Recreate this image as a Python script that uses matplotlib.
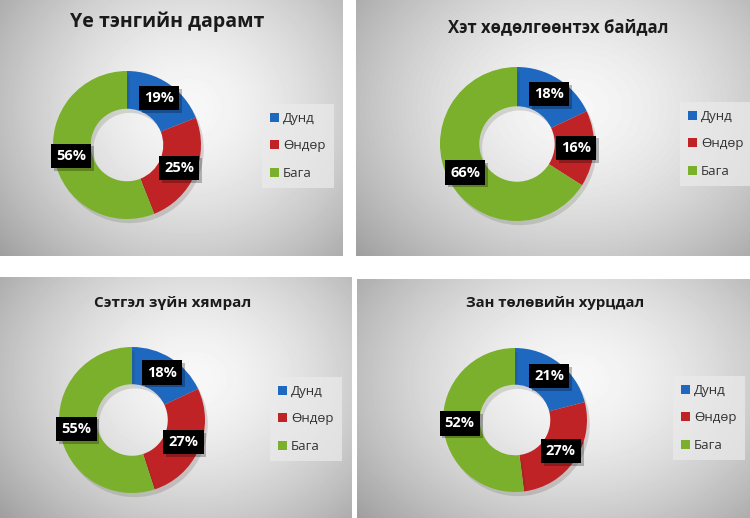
import matplotlib
matplotlib.use('Agg')
import matplotlib.pyplot as plt
import matplotlib.patheffects as pe
from matplotlib.patches import Patch
import numpy as np

plt.rcParams['font.family'] = ['Open Sans', 'Liberation Sans', 'DejaVu Sans']

# data
titles = ['Үе тэнгийн дарамт', 'Хэт хөдөлгөөнтэх байдал',
          'Сэтгэл зүйн хямрал', 'Зан төлөвийн хурцдал']
categories = ['Дунд', 'Өндөр', 'Бага']
ye_tengiin = [19, 25, 56]
het_hudulgun = [18, 16, 66]
setgel_zui = [18, 27, 55]
zan_tuluv = [21, 27, 52]
all_values = [ye_tengiin, het_hudulgun, setgel_zui, zan_tuluv]

colors = ['#1f68bf', '#bf2326', '#7bb02c']

W, H = 750, 518
fig = plt.figure(figsize=(7.5, 5.18), dpi=100)
fig.patch.set_facecolor('white')

# panel layout in pixels: (x0, y0, x1, y1), donut centre/radius, title, legend
panels = [
    dict(box=(0, 0, 343, 256), c=(127, 145), r=74, t=(167, 22), ts=14, leg=(262, 104)),
    dict(box=(356, 0, 750, 256), c=(517, 144), r=77, t=(558, 27), ts=12, leg=(680, 102)),
    dict(box=(0, 277, 352, 518), c=(132, 420), r=73, t=(173, 303), ts=11, leg=(270, 377)),
    dict(box=(357, 279, 750, 518), c=(515, 420), r=72, t=(555, 303), ts=10.7, leg=(673, 376)),
]


def fig_rect(x0, y0, x1, y1):
    return [x0 / W, 1 - y1 / H, (x1 - x0) / W, (y1 - y0) / H]


for p, title, vals in zip(panels, titles, all_values):
    x0, y0, x1, y1 = p['box']
    # gradient background
    bg = fig.add_axes(fig_rect(x0, y0, x1, y1))
    h, w = y1 - y0, x1 - x0
    yy, xx = np.mgrid[0:h, 0:w]
    cx, cy = w * 0.55, h * 0.42
    d = np.sqrt(((xx - cx) / (w * 0.62)) ** 2 + ((yy - cy) / (h * 0.75)) ** 2)
    shade = 0.97 - 0.27 * np.clip(d, 0, 1.2) ** 1.6
    bg.imshow(shade, cmap='gray', vmin=0, vmax=1, aspect='auto')
    bg.axis('off')

    # donut
    cxp, cyp = p['c']
    r = p['r']
    ax = fig.add_axes(fig_rect(cxp - r, cyp - r, cxp + r, cyp + r))
    wedges, _ = ax.pie(vals, colors=colors, startangle=90, counterclock=False,
                       radius=1, wedgeprops=dict(width=0.51, linewidth=0))
    for wd in wedges:
        wd.set_path_effects([pe.SimplePatchShadow(offset=(2, -3), alpha=0.15),
                             pe.Normal()])
    ax.set_xlim(-1, 1)
    ax.set_ylim(-1, 1)
    ax.axis('off')

    # data labels
    total = sum(vals)
    start = 0
    for v in vals:
        mid = (start + v / 2) / total * 2 * np.pi
        start += v
        lx, ly = 0.77 * np.sin(mid), 0.77 * np.cos(mid)
        t = ax.text(lx, ly, f'{v}%', ha='center', va='center', color='white',
                    fontsize=10.5, fontweight='bold',
                    bbox=dict(boxstyle='square,pad=0.35', fc='black', ec='none'))
        t.get_bbox_patch().set_path_effects(
            [pe.SimplePatchShadow(offset=(2, -2), alpha=0.25), pe.Normal()])

    # title
    fig.text(p['t'][0] / W, 1 - p['t'][1] / H, title, ha='center', va='center',
             fontsize=p['ts'], fontweight='bold', color='#1a1a1a')

    # legend
    handles = [Patch(facecolor=c, edgecolor='none') for c in colors]
    lx, ly = p['leg']
    leg = fig.legend(handles, categories, loc='upper left',
                     bbox_to_anchor=(lx / W, 1 - ly / H), fontsize=9.5,
                     handlelength=0.7, handleheight=0.7, handletextpad=0.3,
                     labelspacing=1.1, borderpad=0.6, borderaxespad=0,
                     frameon=True, fancybox=False)
    leg.get_frame().set_facecolor('#ebebeb')
    leg.get_frame().set_edgecolor('none')
    leg.get_frame().set_alpha(0.7)
    for txt in leg.get_texts():
        txt.set_color('#333333')

fig.savefig('out.png', dpi=100, facecolor='white')
